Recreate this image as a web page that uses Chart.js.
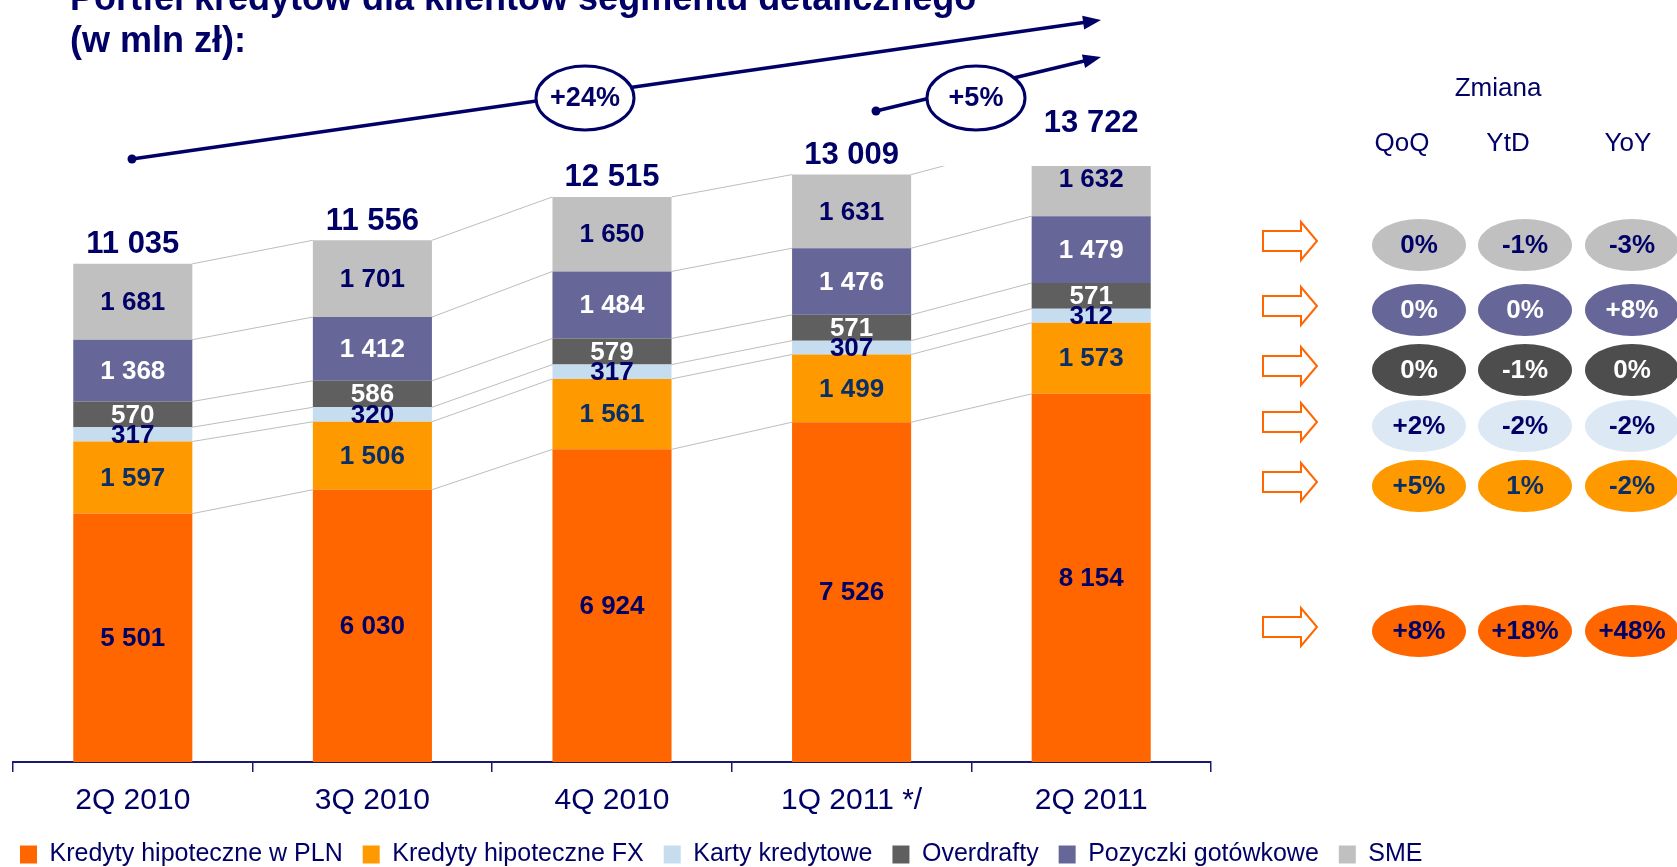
<!DOCTYPE html>
<html lang="pl">
<head>
    <meta charset="UTF-8">
    <title>Portfel kredytów dla klientów segmentu detalicznego</title>
    <script src="https://cdn.jsdelivr.net/npm/chart.js@4.4.1/dist/chart.umd.min.js"></script>
    <style>
        html, body { margin: 0; padding: 0; background: #fff; }
        #wrap { position: relative; width: 1677px; height: 867px; }
    </style>
</head>
<body>
<div id="wrap"><canvas id="barChart"></canvas></div>
<script>
    // --- data ---
    const quarters = ['2Q 2010', '3Q 2010', '4Q 2010', '1Q 2011 */', '2Q 2011'];
    const plnMortgages = [5501, 6030, 6924, 7526, 8154];
    const fxMortgages = [1597, 1506, 1561, 1499, 1573];
    const creditCards = [317, 320, 317, 307, 312];
    const overdrafts = [570, 586, 579, 571, 571];
    const cashLoans = [1368, 1412, 1484, 1476, 1479];
    const smeLoans = [1681, 1701, 1650, 1631, 1632];
    const totals = [11035, 11556, 12515, 13009, 13722];

    const seriesNames = ['Kredyty hipoteczne w PLN', 'Kredyty hipoteczne FX', 'Karty kredytowe', 'Overdrafty', 'Pozyczki gotówkowe', 'SME'];

    // change table, rows top -> bottom: SME, gotówkowe, overdrafty, karty, FX, PLN
    const changeHeaders = ['QoQ', 'YtD', 'YoY'];
    const qoq = ['0%', '0%', '0%', '+2%', '+5%', '+8%'];
    const ytd = ['-1%', '0%', '-1%', '-2%', '1%', '+18%'];
    const yoy = ['-3%', '+8%', '0%', '-2%', '-2%', '+48%'];
    const growthLabels = ['+24%', '+5%'];

    // --- styles ---
    const navy = '#000066';
    const FONT = '"Liberation Sans", Arial, sans-serif';
    const barColors = ['#FF6600', '#FF9900', '#C6DCEF', '#5F5F5F', '#666699', '#C0C0C0'];
    const labelColors = [navy, '#0A2F66', navy, '#FFFFFF', '#FFFFFF', navy];
    const pillColors = ['#C0C0C0', '#666699', '#4D4D4D', '#DDE8F5', '#FF9900', '#FF6600'];
    const pillText = [navy, '#FFFFFF', '#FFFFFF', navy, '#0A2F66', navy];
    const rowY = [245, 310, 370, 426, 486, 631];
    const colX = [1419, 1525, 1632];
    const headX = [1402, 1508, 1628];
    const padBottom = -10;

    const fmt = v => String(v).replace(/\B(?=(\d{3})+(?!\d))/g, ' ');
    const seriesData = [plnMortgages, fxMortgages, creditCards, overdrafts, cashLoans, smeLoans];

    const leaderLines = {
        id: 'leaderLines',
        beforeDatasetsDraw(chart) {
            const ctx = chart.ctx, a = chart.chartArea;
            ctx.save();
            ctx.beginPath();
            ctx.rect(a.left, a.top, a.right - a.left, a.bottom - a.top);
            ctx.clip();
            ctx.strokeStyle = '#BDBDBD';
            ctx.lineWidth = 1;
            chart.data.datasets.forEach((ds, d) => {
                const bars = chart.getDatasetMeta(d).data;
                for (let i = 0; i < bars.length - 1; i++) {
                    const p = bars[i], q = bars[i + 1];
                    ctx.beginPath();
                    ctx.moveTo(p.x + p.width / 2, p.y);
                    ctx.lineTo(q.x - q.width / 2, q.y);
                    ctx.stroke();
                }
            });
            ctx.restore();
        }
    };

    const barLabels = {
        id: 'barLabels',
        afterDatasetsDraw(chart) {
            const ctx = chart.ctx;
            ctx.save();
            ctx.textAlign = 'center';
            ctx.textBaseline = 'middle';
            ctx.font = 'bold 26px ' + FONT;
            chart.data.datasets.forEach((ds, d) => {
                chart.getDatasetMeta(d).data.forEach((bar, i) => {
                    ctx.fillStyle = labelColors[d];
                    ctx.fillText(fmt(ds.data[i]), bar.x, (bar.y + bar.base) / 2 + 1);
                });
            });
            const top = chart.getDatasetMeta(chart.data.datasets.length - 1).data;
            ctx.font = 'bold 31px ' + FONT;
            ctx.fillStyle = navy;
            top.forEach((bar, i) => ctx.fillText(fmt(totals[i]), bar.x, bar.y - 19));
            ctx.restore();
        }
    };

    function trendArrow(ctx, x1, y1, x2, y2, cx, cy, text) {
        const ang = Math.atan2(y2 - y1, x2 - x1);
        ctx.strokeStyle = navy;
        ctx.fillStyle = navy;
        ctx.lineWidth = 3.5;
        ctx.beginPath();
        ctx.moveTo(x1, y1);
        ctx.lineTo(x2 - 14 * Math.cos(ang), y2 - 14 * Math.sin(ang));
        ctx.stroke();
        ctx.beginPath();
        ctx.arc(x1, y1, 4.5, 0, Math.PI * 2);
        ctx.fill();
        ctx.beginPath();
        ctx.moveTo(x2, y2);
        ctx.lineTo(x2 - 18 * Math.cos(ang) + 7 * Math.sin(ang), y2 - 18 * Math.sin(ang) - 7 * Math.cos(ang));
        ctx.lineTo(x2 - 18 * Math.cos(ang) - 7 * Math.sin(ang), y2 - 18 * Math.sin(ang) + 7 * Math.cos(ang));
        ctx.closePath();
        ctx.fill();
        ctx.beginPath();
        ctx.ellipse(cx, cy, 49, 32, 0, 0, Math.PI * 2);
        ctx.fillStyle = '#FFFFFF';
        ctx.fill();
        ctx.lineWidth = 3;
        ctx.stroke();
        ctx.fillStyle = navy;
        ctx.font = 'bold 27px ' + FONT;
        ctx.textAlign = 'center';
        ctx.textBaseline = 'middle';
        ctx.fillText(text, cx, cy + 1);
    }

    function blockArrow(ctx, x, y) {
        ctx.beginPath();
        ctx.moveTo(x, y - 10);
        ctx.lineTo(x + 38, y - 10);
        ctx.lineTo(x + 38, y - 19);
        ctx.lineTo(x + 54, y);
        ctx.lineTo(x + 38, y + 19);
        ctx.lineTo(x + 38, y + 10);
        ctx.lineTo(x, y + 10);
        ctx.closePath();
        ctx.stroke();
    }

    const annotations = {
        id: 'annotations',
        afterDraw(chart) {
            const ctx = chart.ctx;
            ctx.save();
            // title (top line partly cut off)
            ctx.fillStyle = navy;
            ctx.font = 'bold 36px ' + FONT;
            ctx.textAlign = 'left';
            ctx.textBaseline = 'alphabetic';
            ctx.fillText('Portfel kredytów dla klientów segmentu detalicznego', 70, 10);
            ctx.fillText('(w mln zł):', 70, 52);

            trendArrow(ctx, 132, 159, 1101, 20, 585, 98, growthLabels[0]);
            trendArrow(ctx, 876, 111, 1101, 57, 976, 98, growthLabels[1]);

            // change table
            ctx.textAlign = 'center';
            ctx.textBaseline = 'middle';
            ctx.font = '26px ' + FONT;
            ctx.fillStyle = navy;
            ctx.fillText('Zmiana', 1498, 89);
            changeHeaders.forEach((h, c) => ctx.fillText(h, headX[c], 144));

            const cols = [qoq, ytd, yoy];
            ctx.strokeStyle = '#FF6600';
            ctx.lineWidth = 2;
            rowY.forEach((y, r) => {
                blockArrow(ctx, 1263, y - 4);
                cols.forEach((vals, c) => {
                    ctx.beginPath();
                    ctx.ellipse(colX[c], y, 47, 26, 0, 0, Math.PI * 2);
                    ctx.fillStyle = pillColors[r];
                    ctx.fill();
                    ctx.fillStyle = pillText[r];
                    ctx.font = 'bold 26px ' + FONT;
                    ctx.fillText(vals[r], colX[c], y + 1);
                });
            });
            ctx.restore();
        }
    };

    const ctx = document.getElementById('barChart').getContext('2d');
    new Chart(ctx, {
        type: 'bar',
        data: {
            labels: quarters,
            datasets: seriesData.map((vals, d) => ({
                label: seriesNames[d],
                data: vals,
                backgroundColor: barColors[d],
                borderWidth: 0,
                barPercentage: 0.497,
                categoryPercentage: 1,
                clip: 0
            }))
        },
        options: {
            responsive: true,
            maintainAspectRatio: false,
            animation: false,
            layout: { padding: { left: 0, right: 0, top: 166, bottom: padBottom } },
            scales: {
                x: {
                    stacked: true,
                    grid: { display: true, drawOnChartArea: false, drawTicks: true, tickLength: 10, color: '#1A1A70', lineWidth: 1.5, offset: true },
                    border: { display: true, color: '#1A1A70', width: 2 },
                    ticks: { color: navy, padding: 11, font: { family: FONT, size: 30 } },
                    afterFit: s => { s.height = 867 - padBottom - s.chart.legend.height - 762; }
                },
                y: {
                    stacked: true,
                    min: 0,
                    max: 13200,
                    grid: { display: false },
                    border: { display: false },
                    ticks: { display: false },
                    afterFit: s => { s.width = 13; }
                },
                yr: {
                    type: 'linear',
                    position: 'right',
                    grid: { display: false },
                    border: { display: false },
                    ticks: { display: false },
                    afterFit: s => { s.width = 466; }
                }
            },
            plugins: {
                legend: {
                    position: 'bottom',
                    align: 'start',
                    labels: { boxWidth: 17, boxHeight: 18, padding: 20, color: navy, font: { family: FONT, size: 25 } }
                },
                tooltip: { enabled: false }
            }
        },
        plugins: [leaderLines, barLabels, annotations]
    });
</script>
</body>
</html>
